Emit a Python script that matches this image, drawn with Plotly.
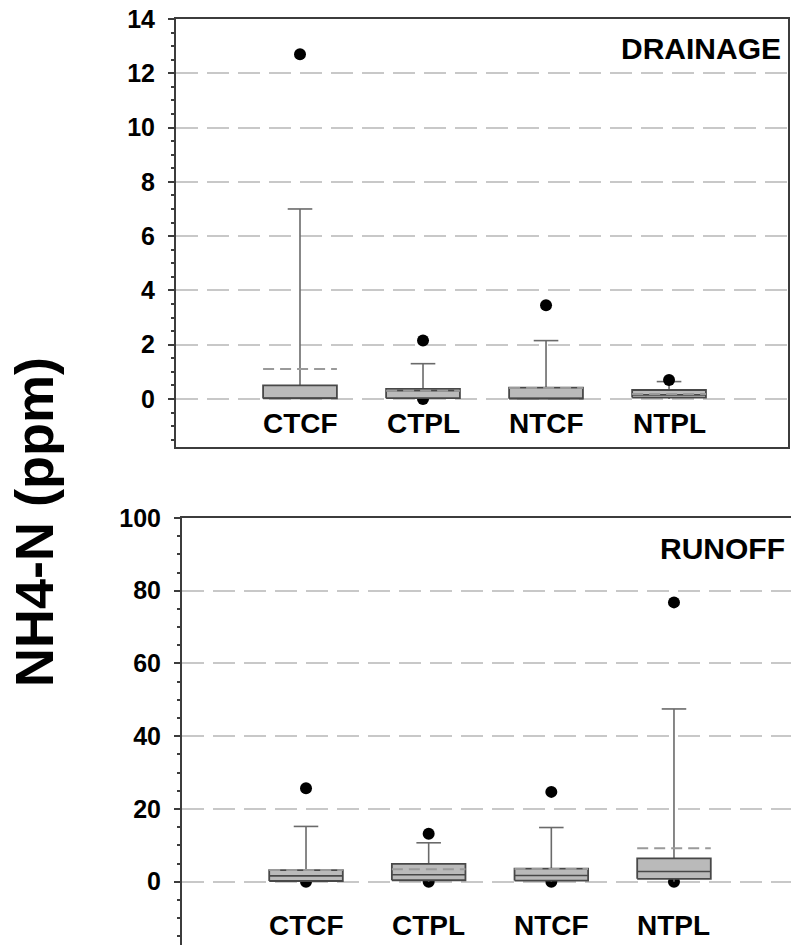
import plotly.graph_objects as go

# ---------------- data ----------------
categories = ["CTCF", "CTPL", "NTCF", "NTPL"]

# DRAINAGE panel
dr_q1 = [0.02, 0.03, 0.01, 0.05]
dr_median = [0.03, 0.30, 0.02, 0.15]
dr_q3 = [0.50, 0.37, 0.42, 0.33]
dr_mean = [1.10, 0.30, 0.40, 0.18]
dr_lower = [0.0, 0.0, 0.0, 0.0]
dr_upper = [7.0, 1.30, 2.15, 0.64]
dr_out_hi = [12.7, 2.15, 3.45, 0.70]
dr_out_lo = [None, 0.0, None, None]

# RUNOFF panel
ro_q1 = [0.2, 0.4, 0.3, 0.8]
ro_median = [1.6, 1.9, 1.7, 2.8]
ro_q3 = [3.2, 4.9, 3.6, 6.4]
ro_mean = [3.2, 3.4, 3.5, 9.2]
ro_lower = [0.0, 0.0, 0.0, 0.0]
ro_upper = [15.2, 10.7, 14.9, 47.5]
ro_out_hi = [25.7, 13.2, 24.7, 76.8]
ro_out_lo = [0.0, 0.0, 0.0, 0.0]

panel_names = ["DRAINAGE", "RUNOFF"]
y_title = "NH4-N (ppm)"

# ---------------- styling ----------------
FONT = "Liberation Sans, Arial, sans-serif"
BOX_FILL = "#bababa"
BOX_LINE = "#484848"
WHISK = "#6a6a6a"
MEAN_COL = "#9a9a9a"
GRID = "#c8c8c8"
AX = "#3c3c3c"
BOXW = 0.6
CAPW = 0.1
DOT = 12

pos = list(range(len(categories)))

fig = go.Figure()


def segs(xs_left, xs_right, ys_a, ys_b):
    X, Y = [], []
    for xl, xr, ya, yb in zip(xs_left, xs_right, ys_a, ys_b):
        X += [xl, xr, None]
        Y += [ya, yb, None]
    return X, Y


def add_panel(xa, ya, q1, med, q3, mean, lo, hi, out_hi, out_lo):
    kw = dict(xaxis=xa, yaxis=ya, showlegend=False, hoverinfo="skip")
    # lower outliers (behind boxes)
    fig.add_trace(go.Scatter(x=pos, y=out_lo, mode="markers",
                             marker=dict(color="black", size=DOT), **kw))
    # whiskers
    wx, wy = segs(pos, pos, q3, hi)
    lx, ly = segs(pos, pos, q1, lo)
    fig.add_trace(go.Scatter(x=wx + lx, y=wy + ly, mode="lines",
                             line=dict(color=WHISK, width=1.6), **kw))
    # caps
    cx, cy = segs([p - CAPW for p in pos], [p + CAPW for p in pos], hi, hi)
    fig.add_trace(go.Scatter(x=cx, y=cy, mode="lines",
                             line=dict(color=WHISK, width=1.6), **kw))
    # boxes
    for p, a, b in zip(pos, q1, q3):
        fig.add_trace(go.Scatter(x=[p - BOXW / 2, p + BOXW / 2, p + BOXW / 2, p - BOXW / 2, p - BOXW / 2],
                                 y=[a, a, b, b, a], mode="lines", fill="toself",
                                 fillcolor=BOX_FILL, line=dict(color=BOX_LINE, width=1.8), **kw))
    # medians
    mx, my = segs([p - BOXW / 2 for p in pos], [p + BOXW / 2 for p in pos], med, med)
    fig.add_trace(go.Scatter(x=mx, y=my, mode="lines",
                             line=dict(color=BOX_LINE, width=1.6), **kw))
    # means (dashed)
    ex, ey = segs([p - BOXW / 2 for p in pos], [p + BOXW / 2 for p in pos], mean, mean)
    fig.add_trace(go.Scatter(x=ex, y=ey, mode="lines",
                             line=dict(color=MEAN_COL, width=2, dash="11px,6px"), **kw))
    # upper outliers
    fig.add_trace(go.Scatter(x=pos, y=out_hi, mode="markers",
                             marker=dict(color="black", size=DOT), **kw))


add_panel("x", "y", dr_q1, dr_median, dr_q3, dr_mean, dr_lower, dr_upper, dr_out_hi, dr_out_lo)
add_panel("x2", "y2", ro_q1, ro_median, ro_q3, ro_mean, ro_lower, ro_upper, ro_out_hi, ro_out_lo)

# category labels inside the plots
for p, c in zip(pos, categories):
    fig.add_annotation(x=p, y=-0.92, xref="x", yref="y", text=c, showarrow=False,
                       font=dict(family=FONT, size=28, color="black", weight="bold"))
    fig.add_annotation(x=p, y=-11.9, xref="x2", yref="y2", text=c, showarrow=False,
                       font=dict(family=FONT, size=28, color="black", weight="bold"))

# panel names
fig.add_annotation(x=783 / 791, y=1 - 48 / 945, xref="paper", yref="paper", text=panel_names[0],
                   showarrow=False, xanchor="right", yanchor="middle",
                   font=dict(family=FONT, size=30, color="black", weight="bold"))
fig.add_annotation(x=787 / 791, y=1 - 548 / 945, xref="paper", yref="paper", text=panel_names[1],
                   showarrow=False, xanchor="right", yanchor="middle",
                   font=dict(family=FONT, size=30, color="black", weight="bold"))

# y title
fig.add_annotation(x=34 / 791, y=1 - 522 / 945, xref="paper", yref="paper", text=y_title, showarrow=False,
                   textangle=-90, xanchor="center", yanchor="middle",
                   font=dict(family=FONT, size=54, color="black", weight="bold"))

common_y = dict(showline=True, linecolor=AX, linewidth=2, mirror=True,
                ticks="outside", ticklen=6, tickwidth=2, tickcolor=AX,
                tickfont=dict(family=FONT, size=25, color="black", weight="bold"),
                showgrid=True, gridcolor=GRID, gridwidth=2, griddash="22px,9px",
                zeroline=False, ticklabelstandoff=8, automargin=False)
common_x = dict(showline=True, linecolor=AX, linewidth=2, mirror=True,
                showticklabels=False, ticks="", showgrid=False, zeroline=False, automargin=False)

fig.update_layout(
    width=791, height=945,
    margin=dict(l=0, r=0, t=0, b=0, autoexpand=False),
    paper_bgcolor="white", plot_bgcolor="white",
    showlegend=False,
    xaxis=dict(domain=[176 / 791, 788 / 791], range=[-1.008, 3.967], anchor="y", **common_x),
    yaxis=dict(domain=[1 - 447 / 945, 1 - 19 / 945], range=[-1.77, 14], anchor="x",
               tick0=0, dtick=2,
               minor=dict(ticks="outside", ticklen=3, tickwidth=1.5, tickcolor=AX, dtick=0.5, showgrid=False),
               **common_y),
    xaxis2=dict(domain=[182 / 791, 1.0], range=[-1.011, 3.954], anchor="y2", **common_x),
    yaxis2=dict(domain=[0.0, 1 - 518 / 945], range=[-17.4, 100], anchor="x2",
                tick0=0, dtick=20,
                minor=dict(ticks="outside", ticklen=3, tickwidth=1.5, tickcolor=AX, dtick=5, showgrid=False),
                **common_y),
)

fig.write_html("out.html")
